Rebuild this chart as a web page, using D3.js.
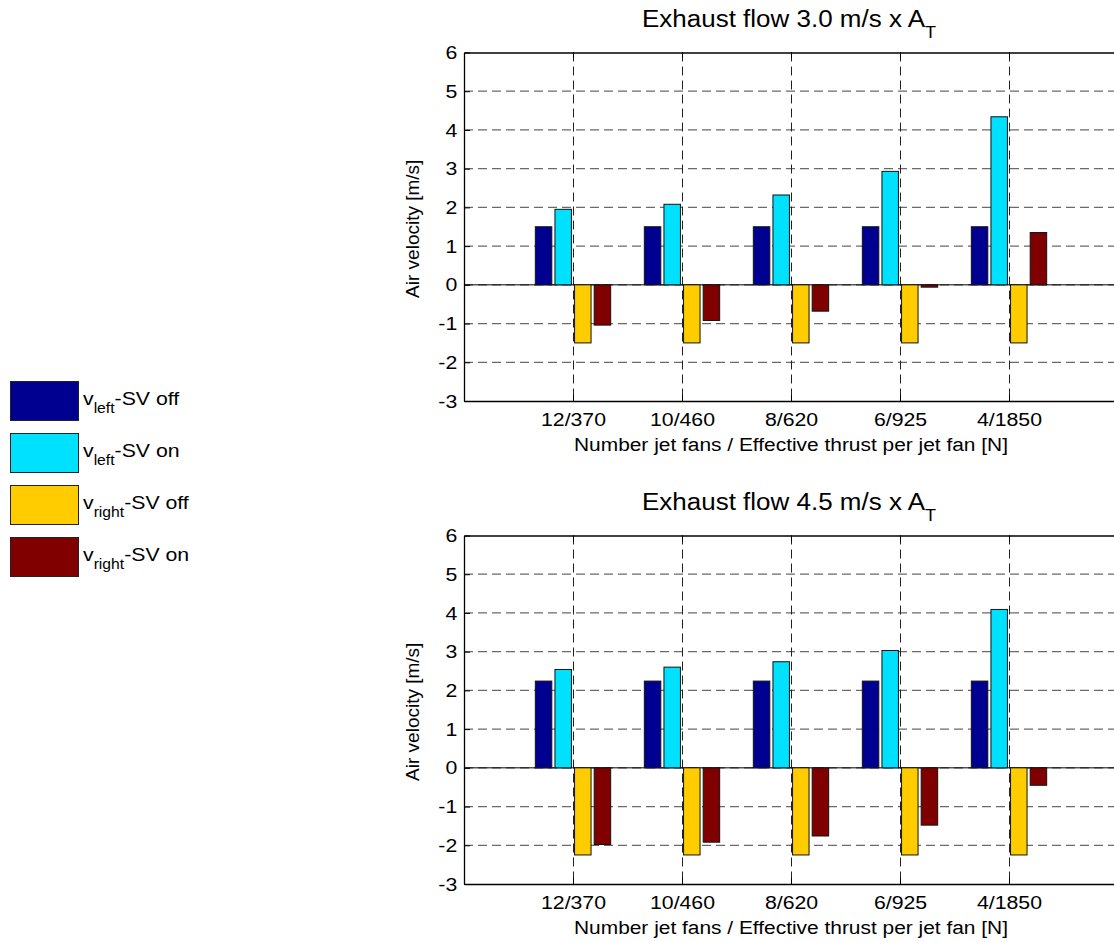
<!DOCTYPE html>
<html>
<head>
<meta charset="utf-8">
<script src="https://cdn.jsdelivr.net/npm/d3@7"></script>
<style>
  body { margin: 0; background: #fff; }
  svg { display: block; font-family: "Liberation Sans", Arial, Helvetica, sans-serif; }
</style>
</head>
<body>
<div id="chart-container"></div>
<script>
// categories and series
const categories = ["12/370", "10/460", "8/620", "6/925", "4/1850"];
const seriesKeys = ["leftOff", "leftOn", "rightOff", "rightOn"];
const legendSub = ["left", "left", "right", "right"];
const legendSuffix = ["-SV off", "-SV on", "-SV off", "-SV on"];
const yTicks = [-3, -2, -1, 0, 1, 2, 3, 4, 5, 6];

// exhaust flow 3.0 m/s
const leftOff30 = [1.5, 1.5, 1.5, 1.5, 1.5];
const leftOn30 = [1.95, 2.08, 2.32, 2.93, 4.34];
const rightOff30 = [-1.5, -1.5, -1.5, -1.5, -1.5];
const rightOn30 = [-1.04, -0.92, -0.68, -0.06, 1.35];

// exhaust flow 4.5 m/s
const leftOff45 = [2.24, 2.24, 2.24, 2.24, 2.24];
const leftOn45 = [2.54, 2.60, 2.74, 3.03, 4.09];
const rightOff45 = [-2.25, -2.25, -2.25, -2.25, -2.25];
const rightOn45 = [-1.98, -1.92, -1.76, -1.48, -0.45];

const panels = [
  {title: "Exhaust flow 3.0 m/s x A", sub: "T", top: 52.5, bottom: 401,
   values: [leftOff30, leftOn30, rightOff30, rightOn30]},
  {title: "Exhaust flow 4.5 m/s x A", sub: "T", top: 535.5, bottom: 884,
   values: [leftOff45, leftOn45, rightOff45, rightOn45]}
];

const color = d3.scaleOrdinal()
  .domain(seriesKeys)
  .range(["#000090", "#00e0ff", "#ffcc00", "#800000"]);

const width = 1114, height = 942;
const SX = 1.12; // the original figure text is a bit wide
const left = 464, right = 1118;

const svg = d3.select("#chart-container")
  .append("svg")
  .attr("width", width)
  .attr("height", height);

const x = d3.scaleLinear().domain([0, 6]).range([left, right]);
const groupW = (x(1) - x(0)) * 0.72;
const xSub = d3.scaleBand()
  .domain(seriesKeys)
  .range([-groupW / 2, groupW / 2])
  .paddingInner(0.16)
  .paddingOuter(0.08);

panels.forEach(p => {
  const y = d3.scaleLinear().domain([-3, 6]).range([p.bottom, p.top]);
  const g = svg.append("g");

  // grid
  g.selectAll(".hgrid")
    .data(yTicks.filter(t => t > -3 && t < 6))
    .join("line")
      .attr("x1", left).attr("x2", right)
      .attr("y1", d => y(d)).attr("y2", d => y(d))
      .attr("stroke", "#6a6a6a")
      .attr("stroke-width", 1.3)
      .attr("stroke-dasharray", "9,5");

  g.selectAll(".vgrid")
    .data(categories)
    .join("line")
      .attr("x1", (d, i) => Math.round(x(i + 1)) + 0.5)
      .attr("x2", (d, i) => Math.round(x(i + 1)) + 0.5)
      .attr("y1", p.top).attr("y2", p.bottom)
      .attr("stroke", "#222")
      .attr("stroke-width", 1)
      .attr("stroke-dasharray", "9,5");

  // baseline at zero
  g.append("line")
    .attr("x1", left).attr("x2", right)
    .attr("y1", y(0)).attr("y2", y(0))
    .attr("stroke", "#000")
    .attr("stroke-width", 1);

  // bars
  const rows = [];
  categories.forEach((c, i) => {
    seriesKeys.forEach((k, j) => rows.push({i, key: k, v: p.values[j][i]}));
  });

  g.selectAll(".bar")
    .data(rows)
    .join("rect")
      .attr("x", d => x(d.i + 1) + xSub(d.key))
      .attr("width", xSub.bandwidth())
      .attr("y", d => y(Math.max(0, d.v)))
      .attr("height", d => Math.abs(y(d.v) - y(0)))
      .attr("fill", d => color(d.key))
      .attr("stroke", "#111")
      .attr("stroke-width", 1);

  // axes
  const yAxis = d3.axisLeft(y).tickValues(yTicks).tickFormat(d => String(d))
    .tickSizeInner(-6).tickSizeOuter(0).tickPadding(6);
  const ya = g.append("g").attr("transform", `translate(${left},0)`).call(yAxis);
  ya.selectAll("text")
    .attr("transform", `scale(${SX},1)`)
    .style("font-size", "19px")
    .attr("fill", "#000");

  const xAxis = d3.axisBottom(x)
    .tickValues(d3.range(1, categories.length + 1))
    .tickFormat(d => categories[d - 1])
    .tickSizeInner(-6).tickSizeOuter(0).tickPadding(11.5);
  const xa = g.append("g").attr("transform", `translate(0,${p.bottom})`).call(xAxis);
  xa.selectAll("text")
    .attr("transform", `scale(${SX},1)`)
    .style("font-size", "19px")
    .attr("fill", "#000");

  const xTop = d3.axisTop(x)
    .tickValues(d3.range(1, categories.length + 1))
    .tickFormat("").tickSizeInner(-6).tickSizeOuter(0);
  g.append("g").attr("transform", `translate(0,${p.top})`).call(xTop);

  svg.selectAll(".domain").attr("stroke", "#000").attr("stroke-width", 1.3);

  // x label
  g.append("text")
    .attr("transform", `translate(${(left + right) / 2},${p.bottom + 50}) scale(1.1,1)`)
    .attr("text-anchor", "middle")
    .style("font-size", "19px")
    .text("Number jet fans / Effective thrust per jet fan [N]");

  // y label
  g.append("text")
    .attr("transform", `translate(419,${(p.top + p.bottom) / 2 + 2}) rotate(-90)`)
    .attr("text-anchor", "middle")
    .style("font-size", "19px")
    .text("Air velocity [m/s]");

  // title
  const t = g.append("text")
    .attr("transform", `translate(${(left + right) / 2 - 2},${p.top - 25.5}) scale(1.13,1)`)
    .attr("text-anchor", "middle")
    .style("font-size", "23px");
  t.append("tspan").text(p.title);
  t.append("tspan").attr("dy", 11).style("font-size", "16px").text(p.sub);
});

// legend
const legend = svg.append("g").attr("transform", "translate(10,381)");
seriesKeys.forEach((k, i) => {
  const yPos = i * 52;
  legend.append("rect")
    .attr("x", 0.5).attr("y", yPos + 0.5)
    .attr("width", 68).attr("height", 39)
    .attr("fill", color(k))
    .attr("stroke", "#222")
    .attr("stroke-width", 1);

  const lt = legend.append("text")
    .attr("transform", `translate(73,${yPos + 24}) scale(${SX},1)`)
    .style("font-size", "19px");
  lt.append("tspan").text("v");
  lt.append("tspan").attr("dy", 8).style("font-size", "14px").text(legendSub[i]);
  lt.append("tspan").attr("dy", -8).text(legendSuffix[i]);
});
</script>
</body>
</html>
